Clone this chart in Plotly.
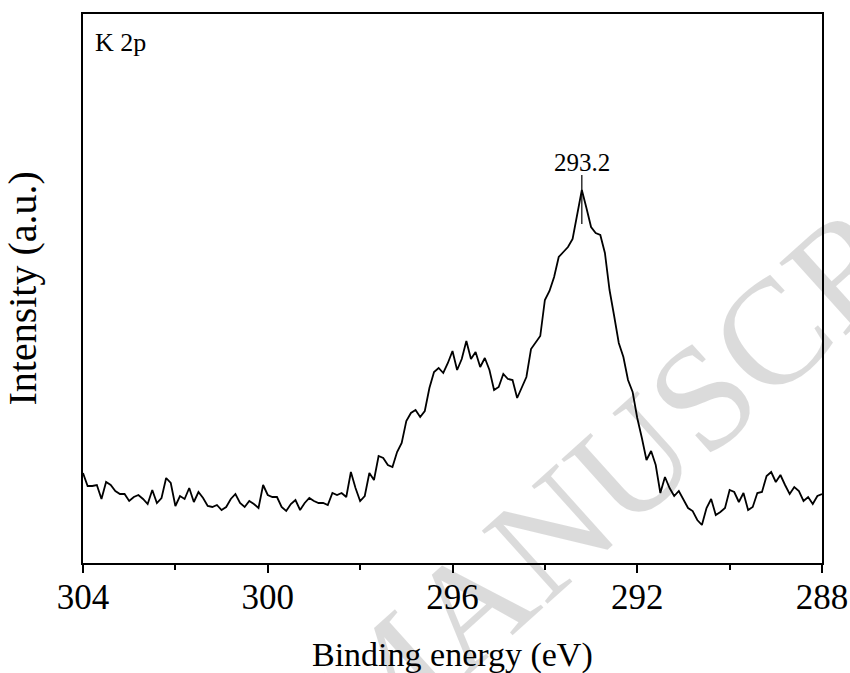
import numpy as np
import plotly.graph_objects as go

# K 2p XPS spectrum, 0.1 eV steps from 304 eV down to 288 eV
binding_energy = np.round(np.linspace(304.0, 288.0, 161), 1)

intensity = [
    90, 77, 77, 78, 64, 81, 78, 72, 69, 69,
    62, 66, 68, 64, 59, 73, 60, 65, 85, 80,
    57, 67, 64, 75, 61, 71, 65, 57, 56, 58,
    53, 56, 64, 69, 60, 56, 62, 59, 55, 78,
    68, 66, 66, 56, 52, 59, 63, 53, 60, 65,
    62, 60, 60, 58, 70, 68, 70, 66, 91, 75,
    62, 67, 90, 83, 107, 105, 98, 96, 111, 120,
    142, 150, 153, 146, 152, 175, 191, 195, 190, 200,
    212, 193, 204, 222, 204, 211, 196, 205, 193, 173,
    176, 189, 184, 183, 165, 175, 186, 214, 220, 227,
    263, 272, 286, 306, 311, 316, 324, 348, 373, 355,
    336, 330, 328, 310, 273, 247, 220, 206, 183, 171,
    145, 125, 103, 112, 98, 70, 86, 75, 67, 72,
    63, 55, 52, 43, 38, 55, 64, 48, 51, 55,
    73, 71, 61, 70, 53, 56, 70, 71, 87, 91,
    81, 88, 78, 69, 76, 72, 62, 66, 59, 67,
    69,
]

major_ticks = [304, 300, 296, 292, 288]
minor_ticks = [302, 298, 294, 290]
x_title = "Binding energy (eV)"
y_title = "Intensity (a.u.)"
panel_label = "K 2p"
watermark = "MANUSCRIPT"

SERIF = "Liberation Serif, Times New Roman, serif"

fig = go.Figure()
fig.add_trace(go.Scatter(
    x=binding_energy, y=intensity, mode="lines",
    line=dict(color="black", width=1.8),
    showlegend=False, hoverinfo="skip",
))

# peak marker: short vertical bar through the maximum plus its energy label
peak_idx = int(np.argmax(intensity))
peak_x = float(binding_energy[peak_idx])
peak_y = float(intensity[peak_idx])
fig.add_shape(type="line", xref="x", yref="y",
              x0=peak_x, x1=peak_x, y0=peak_y - 34, y1=peak_y + 15,
              line=dict(color="black", width=1.2))
fig.add_annotation(x=peak_x, y=peak_y + 15, xref="x", yref="y",
                   text=f"{peak_x:.1f}", showarrow=False,
                   yanchor="bottom", yshift=-3,
                   font=dict(family=SERIF, size=25, color="black"))

fig.add_annotation(x=0, y=1, xref="paper", yref="paper",
                   xanchor="left", yanchor="top", xshift=10, yshift=-12,
                   text=panel_label, showarrow=False,
                   font=dict(family=SERIF, size=26, color="black"))

# axis titles
fig.add_annotation(x=0.5, y=0, xref="paper", yref="paper",
                   xanchor="center", yanchor="middle", yshift=-92,
                   text=x_title, showarrow=False,
                   font=dict(family=SERIF, size=34, color="black"))
fig.add_annotation(x=0, y=0.5, xref="paper", yref="paper",
                   xanchor="center", yanchor="middle", xshift=-61,
                   text=y_title, showarrow=False, textangle=-90,
                   font=dict(family=SERIF, size=40, color="black"))

# diagonal translucent watermark
fig.add_annotation(x=0.821, y=0.285, xref="paper", yref="paper",
                   text=watermark, showarrow=False, textangle=-42,
                   xanchor="center", yanchor="middle",
                   font=dict(family=SERIF, size=150, color="rgba(0,0,0,0.14)"))

fig.update_xaxes(
    range=[304, 288], tickvals=major_ticks, ticktext=[str(v) for v in major_ticks],
    ticks="outside", ticklen=8, tickwidth=2, tickcolor="black",
    minor=dict(tickvals=minor_ticks, ticks="outside", ticklen=5, tickwidth=2, tickcolor="black"),
    showline=True, linewidth=2, linecolor="black", mirror=True,
    showgrid=False, zeroline=False, automargin=False,
    ticklabelstandoff=-6,
    tickfont=dict(family=SERIF, size=35, color="black"),
)
fig.update_yaxes(
    range=[0, 549], showticklabels=False, ticks="",
    showline=True, linewidth=2, linecolor="black", mirror=True,
    showgrid=False, zeroline=False, automargin=False,
)

fig.update_layout(
    width=850, height=673,
    margin=dict(l=83, r=28, t=14, b=110),
    paper_bgcolor="white", plot_bgcolor="white",
)

fig.write_html("out.html")
